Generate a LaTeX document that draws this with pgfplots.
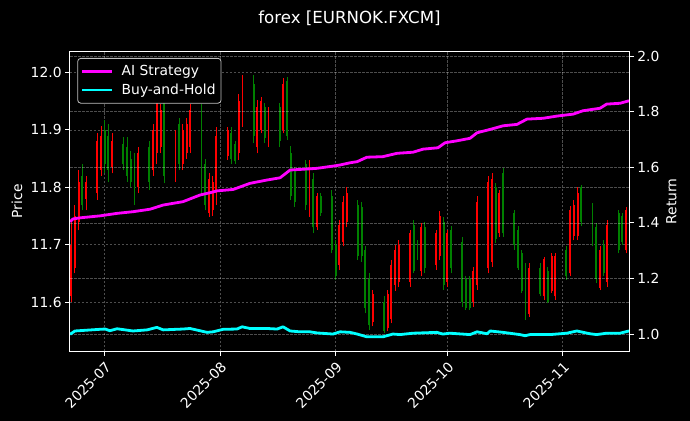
\documentclass[border=0pt]{standalone}
\usepackage{fontspec}
\setmainfont{DejaVu Sans}
\usepackage{pgfplots}
\pgfplotsset{compat=1.18}
\usepackage{pgfplotstable}

\definecolor{upgreen}{RGB}{0,128,0}
\definecolor{downred}{RGB}{255,0,0}
\definecolor{aimag}{RGB}{255,0,255}
\definecolor{bhcyan}{RGB}{0,255,255}

\pgfplotstableread{
d o h l c
-9 11.70 11.74 11.60 11.61
-8 11.75 11.77 11.65 11.66
-7 11.81 11.83 11.725 11.74
-6 11.77 11.84 11.76 11.82
-5 11.81 11.82 11.76 11.78
-2 11.88 11.894 11.778 11.79
-1 11.89 11.906 11.82 11.83
0 11.84 11.917 11.824 11.90
1 11.83 11.91 11.81 11.89
2 11.88 11.894 11.824 11.835
5 11.84 11.887 11.83 11.875
6 11.82 11.887 11.81 11.87
7 11.81 11.864 11.80 11.85
8 11.78 11.86 11.77 11.84
9 11.86 11.87 11.79 11.80
12 11.81 11.88 11.795 11.87
13 11.90 11.91 11.82 11.83
14 11.95 11.96 11.84 11.86
15 11.935 11.945 11.86 11.87
16 11.82 11.963 11.807 11.95
19 11.89 11.90 11.81 11.82
20 11.84 11.92 11.83 11.91
21 11.90 11.91 11.83 11.84
22 11.91 11.92 11.85 11.86
23 11.935 11.945 11.86 11.87
26 11.80 11.945 11.785 11.935
27 11.77 11.85 11.76 11.84
28 11.815 11.824 11.749 11.755
29 11.81 11.82 11.75 11.76
30 11.89 11.905 11.77 11.79
33 11.90 11.905 11.848 11.855
34 11.85 11.905 11.84 11.895
35 11.845 11.88 11.84 11.875
36 11.95 11.963 11.848 11.86
37 11.98 11.995 11.905 11.915
40 11.89 11.995 11.877 11.98
41 11.94 11.952 11.859 11.87
42 11.95 11.958 11.894 11.90
43 11.885 11.946 11.877 11.94
44 11.93 11.94 11.87 11.875
47 11.88 11.946 11.87 11.94
48 11.98 11.99 11.894 11.90
49 11.89 11.992 11.882 11.985
50 11.785 11.871 11.778 11.86
51 11.775 11.836 11.766 11.83
54 11.77 11.848 11.761 11.84
55 11.84 11.848 11.749 11.76
56 11.73 11.824 11.72 11.815
57 11.785 11.79 11.726 11.73
58 11.755 11.79 11.75 11.785
61 11.69 11.795 11.685 11.785
62 11.645 11.708 11.639 11.70
63 11.735 11.743 11.656 11.665
64 11.775 11.784 11.697 11.705
65 11.79 11.80 11.73 11.74
68 11.68 11.778 11.674 11.77
69 11.68 11.775 11.67 11.765
70 11.59 11.697 11.581 11.69
71 11.56 11.65 11.552 11.64
72 11.615 11.621 11.558 11.565
75 11.55 11.61 11.546 11.60
76 11.615 11.621 11.549 11.555
77 11.665 11.674 11.563 11.57
78 11.69 11.70 11.62 11.63
79 11.70 11.708 11.627 11.635
82 11.72 11.726 11.627 11.635
83 11.655 11.743 11.65 11.735
84 11.68 11.708 11.674 11.70
85 11.73 11.737 11.645 11.655
86 11.66 11.74 11.65 11.73
89 11.72 11.726 11.656 11.665
90 11.75 11.758 11.674 11.68
91 11.63 11.749 11.621 11.74
92 11.72 11.726 11.627 11.635
93 11.66 11.732 11.65 11.725
96 11.60 11.714 11.592 11.705
97 11.59 11.645 11.587 11.64
98 11.59 11.645 11.587 11.64
99 11.655 11.662 11.592 11.60
100 11.775 11.784 11.621 11.63
103 11.81 11.819 11.65 11.66
104 11.815 11.825 11.662 11.67
105 11.71 11.807 11.703 11.80
106 11.79 11.795 11.714 11.72
107 11.72 11.833 11.714 11.825
110 11.70 11.761 11.691 11.755
111 11.66 11.732 11.656 11.725
112 11.62 11.691 11.616 11.685
113 11.575 11.668 11.569 11.66
114 11.66 11.668 11.575 11.58
117 11.615 11.668 11.61 11.66
118 11.675 11.679 11.604 11.61
119 11.60 11.662 11.598 11.655
120 11.68 11.685 11.616 11.62
121 11.68 11.685 11.604 11.61
124 11.645 11.697 11.639 11.69
125 11.76 11.767 11.645 11.65
126 11.77 11.778 11.708 11.715
127 11.79 11.80 11.708 11.715
128 11.74 11.804 11.732 11.80
131 11.70 11.772 11.697 11.765
132 11.64 11.737 11.633 11.73
133 11.69 11.697 11.621 11.625
134 11.65 11.708 11.645 11.70
135 11.735 11.743 11.627 11.635
138 11.69 11.761 11.685 11.755
139 11.705 11.755 11.70 11.75
140 11.76 11.766 11.685 11.69
}\candles

\newcommand{\tickfont}{\fontsize{13.9}{16}\selectfont}

\begin{document}
\begin{tikzpicture}
\fill[black] (-70bp,-70bp) rectangle (620bp,351bp);
\pgfplotsset{
  common/.style={
    width=559bp, height=299.3bp, scale only axis,
    at={(0,0)}, anchor=south west,
    xmin=-9.32, xmax=140.8,
    axis line style={white, line width=1bp},
    tick style={white, line width=1bp},
    major tick length=4.9bp, tick align=outside,
    tick label style={text=white, font=\tickfont},
    /pgf/number format/assume math mode=true,
    grid style={white, opacity=0.3, dash pattern=on 2.5bp off 1.5bp, line width=0.6bp},
  },
  candle/.style 2 args={draw=none, forget plot,
    error bars/.cd, y dir=plus, y explicit, error mark=none,
    error bar style={draw=#1, line width=#2, solid}},
}
\begin{axis}[common,
  ymin=11.515, ymax=12.036,
  tick pos=left,
  xmajorgrids, ymajorgrids,
  ytick={11.6,11.7,11.8,11.9,12.0},
  yticklabel style={/pgf/number format/.cd, fixed, fixed zerofill, precision=1},
  xtick={0,31,62,92,123},
  xticklabels={2025-07,2025-08,2025-09,2025-10,2025-11},
  xticklabel style={rotate=45, anchor=north east},
  ylabel={Price},
  every axis y label/.style={at={(axis description cs:-0.095,0.5)}, rotate=90, anchor=center, text=white, font=\tickfont},
  title={forex [EURNOK.FXCM]},
  every axis title/.style={at={(axis description cs:0.5,1)}, yshift=33.7bp, anchor=center, text=white, font=\fontsize{16.7}{20}\selectfont},
]
% wicks
\addplot[candle={downred}{0.9bp}]
  table[x=d, y expr={\thisrow{c}<\thisrow{o} ? \thisrow{l} : nan}, y error plus expr={\thisrow{h}-\thisrow{l}}] {\candles};
\addplot[candle={upgreen}{0.9bp}]
  table[x=d, y expr={\thisrow{c}<\thisrow{o} ? nan : \thisrow{l}}, y error plus expr={\thisrow{h}-\thisrow{l}}] {\candles};
% bodies
\addplot[candle={downred}{1.9bp}]
  table[x=d, y expr={\thisrow{c}<\thisrow{o} ? \thisrow{c} : nan}, y error plus expr={\thisrow{o}-\thisrow{c}}] {\candles};
\addplot[candle={upgreen}{1.9bp}]
  table[x=d, y expr={\thisrow{c}<\thisrow{o} ? nan : \thisrow{o}}, y error plus expr={\thisrow{c}-\thisrow{o}}] {\candles};
\end{axis}

\begin{axis}[common,
  ymin=0.939, ymax=2.0155,
  axis y line*=right, axis x line=none,
  ymajorgrids,
  ytick={1.0,1.2,1.4,1.6,1.8,2.0},
  yticklabel style={/pgf/number format/.cd, fixed, fixed zerofill, precision=1},
  ylabel={Return},
  every axis y label/.style={at={(axis description cs:1.076,0.5)}, rotate=90, anchor=center, text=white, font=\tickfont},
  legend style={at={(axis description cs:0.0131,0.979)}, anchor=north west,
    fill=black, draw=white!75!black, line width=0.8bp, rounded corners=3bp, text=white,
    font=\tickfont, inner xsep=3.5bp, inner ysep=5bp, nodes={inner sep=2bp}, row sep=3bp,
    /tikz/every odd column/.append style={column sep=6bp}},
  legend cell align=left,
  legend image code/.code={\draw[#1, line width=2.5bp] (0bp,0bp) -- (30bp,0bp);},
]
\addplot[aimag, line width=2.8bp, line join=round] table {
d r
-9.32 1.404
-8.5 1.414
-6.6 1.418
-1.3 1.425
3.3 1.434
7.6 1.440
12.2 1.449
15.7 1.464
21.0 1.476
25.6 1.500
28.8 1.510
30.2 1.515
34.5 1.520
39.0 1.542
43.6 1.554
47.1 1.562
49.8 1.590
52.4 1.592
57.0 1.596
61.3 1.604
63.2 1.608
65.9 1.616
67.8 1.620
70.4 1.636
74.7 1.638
78.5 1.650
82.8 1.654
85.5 1.665
89.5 1.670
91.4 1.688
94.6 1.695
98.1 1.704
100.0 1.724
103.5 1.736
107.0 1.749
110.7 1.754
113.4 1.773
117.7 1.776
121.5 1.784
125.8 1.791
128.4 1.803
133.0 1.812
134.8 1.827
138.4 1.830
140.8 1.839
};
\addlegendentry{AI Strategy}
\addplot[bhcyan, line width=2.8bp, line join=round] table {
d r
-9.3 0.999
-8.0 1.011
-1.3 1.017
0.1 1.018
1.4 1.012
3.3 1.019
7.6 1.011
11.4 1.015
14.0 1.024
15.7 1.015
21.0 1.018
22.9 1.020
27.5 1.006
29.1 1.008
31.8 1.017
35.5 1.018
36.9 1.026
39.0 1.020
43.6 1.020
46.3 1.018
47.9 1.026
49.8 1.011
52.4 1.008
55.1 1.008
57.0 1.004
61.3 1.000
63.2 1.008
65.9 1.006
67.8 1.000
70.4 0.990
74.7 0.990
77.4 1.000
79.3 0.998
82.8 1.003
89.2 1.006
90.8 1.000
92.7 1.003
98.1 0.998
100.0 1.008
102.7 1.001
103.5 1.011
107.0 1.006
111.5 0.998
112.9 0.994
114.2 0.998
119.6 0.998
124.1 1.003
126.8 1.011
130.3 1.001
132.1 0.998
134.8 1.003
138.4 1.003
140.8 1.011
};
\addlegendentry{Buy-and-Hold}
\end{axis}
\pgfresetboundingbox
\path[use as bounding box] (-70bp,-70bp) rectangle (620bp,351bp);
\end{tikzpicture}
\end{document}
